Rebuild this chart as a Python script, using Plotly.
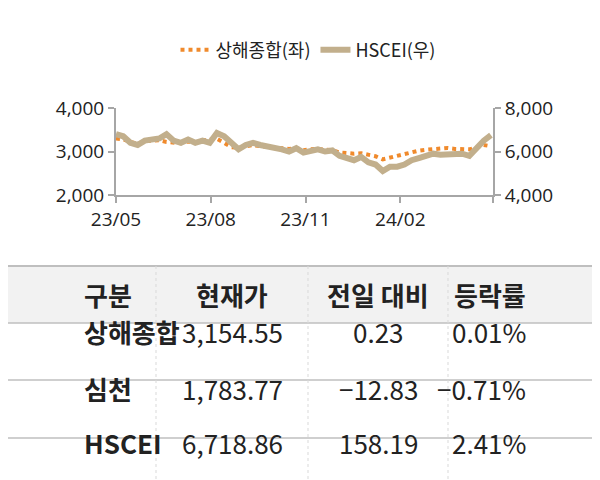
import plotly.graph_objects as go
import pandas as pd

dates = pd.date_range("2023-05-01", periods=53, freq="7D")
hscei = [6800, 6700, 6400, 6300, 6500, 6550, 6600, 6800, 6500, 6400, 6550, 6400, 6500, 6400,
         6850, 6700, 6400, 6100, 6300, 6400, 6300, 6250, 6200, 6100, 6000, 6150, 5950,
         6000, 6100, 6000, 6050, 5800, 5700, 5600, 5750, 5500, 5400, 5100, 5300,
         5300, 5400, 5600, 5700, 5800, 5900, 5850, 5850, 5900, 5900, 5800, 6200, 6500, 6750]
shanghai = [3300, 3280, 3220, 3180, 3240, 3250, 3260, 3220, 3200, 3190, 3230, 3210, 3260, 3280,
            3290, 3200, 3100, 3090, 3130, 3150, 3120, 3110, 3100, 3080, 3060, 3080, 3030,
            3050, 3060, 3040, 3030, 2980, 2960, 2950, 2960, 2920, 2890, 2820, 2860,
            2900, 2950, 3000, 3020, 3040, 3060, 3070, 3080, 3060, 3060, 3050, 3090, 3150, 3120]

header = ["구분", "현재가", "전일 대비", "등락률"]
rows = [["상해종합", "3,154.55", "0.23", "0.01%"],
        ["심천", "1,783.77", "−12.83", "−0.71%"],
        ["HSCEI", "6,718.86", "158.19", "2.41%"]]

W, H = 600, 480
def px(x): return x / W
def py(y): return 1 - y / H

fig = go.Figure()
fig.add_trace(go.Scatter(x=dates, y=shanghai, name="상해종합(좌)", mode="lines",
                         line=dict(color="#F08A2C", width=4, dash="dot"), yaxis="y"))
fig.add_trace(go.Scatter(x=dates, y=hscei, name="HSCEI(우)", mode="lines",
                         line=dict(color="#C2AF8C", width=6), yaxis="y2"))

font = "Noto Sans CJK KR"
axcommon = dict(showline=True, linecolor="#A6A6A6", linewidth=2, ticks="outside",
                tickcolor="#A6A6A6", ticklen=6, tickwidth=2, showgrid=False, automargin=False,
                tickfont=dict(size=19, family="Open Sans", color="#222"))
fig.update_layout(
    width=W, height=H, margin=dict(l=0, r=0, t=0, b=0, autoexpand=False),
    paper_bgcolor="white", plot_bgcolor="white", showlegend=True,
    font=dict(family=font, color="#222"),
    legend=dict(orientation="h", x=0.5, xanchor="center", y=py(42), yanchor="middle",
                font=dict(size=18), traceorder="normal"),
    xaxis=dict(domain=[px(108), px(485)], range=["2023-05-01", "2024-05-01"],
               tickvals=["2023-05-01", "2023-08-01", "2023-11-01", "2024-02-01", "2024-05-01"],
               ticktext=["23/05", "23/08", "23/11", "24/02", ""], **axcommon),
    yaxis=dict(domain=[py(187), py(100)], range=[2000, 4000], tickvals=[2000, 3000, 4000],
               tickformat=",", **axcommon),
    yaxis2=dict(overlaying="y", side="right", anchor="x", range=[4000, 8000],
                tickvals=[4000, 6000, 8000], tickformat=",", **axcommon),
)

col_edges = [0, 148, 300, 440, 600]
row_edges = [258, 315, 372, 430, 480]
fig.add_shape(type="rect", xref="paper", yref="paper", x0=0, x1=1, y0=py(315), y1=py(258),
              fillcolor="#F2F2F2", line_width=0, layer="below")
for i, y in enumerate(row_edges[:-1]):
    fig.add_shape(type="line", xref="paper", yref="paper", x0=0, x1=1, y0=py(y), y1=py(y),
                  line=dict(color="#BFBFBF", width=1.5 if i else 2))
for x in col_edges[1:-1]:
    fig.add_shape(type="line", xref="paper", yref="paper", x0=px(x), x1=px(x),
                  y0=py(258), y1=0, line=dict(color="#D9D9D9", width=1, dash="dot"))

def cell(text, c, r, bold=False):
    xc = (col_edges[c] + col_edges[c + 1]) / 2
    yc = (row_edges[r] + row_edges[r + 1]) / 2
    fig.add_annotation(x=px(xc), y=py(yc), xref="paper", yref="paper",
                       text=f"<b>{text}</b>" if bold else text,
                       showarrow=False, font=dict(size=26, family=font, color="#222"))

for c, t in enumerate(header):
    cell(t, c, 0, bold=True)
for r, row in enumerate(rows):
    for c, t in enumerate(row):
        cell(t, c, r + 1, bold=(c == 0))

fig.write_html("out.html")
